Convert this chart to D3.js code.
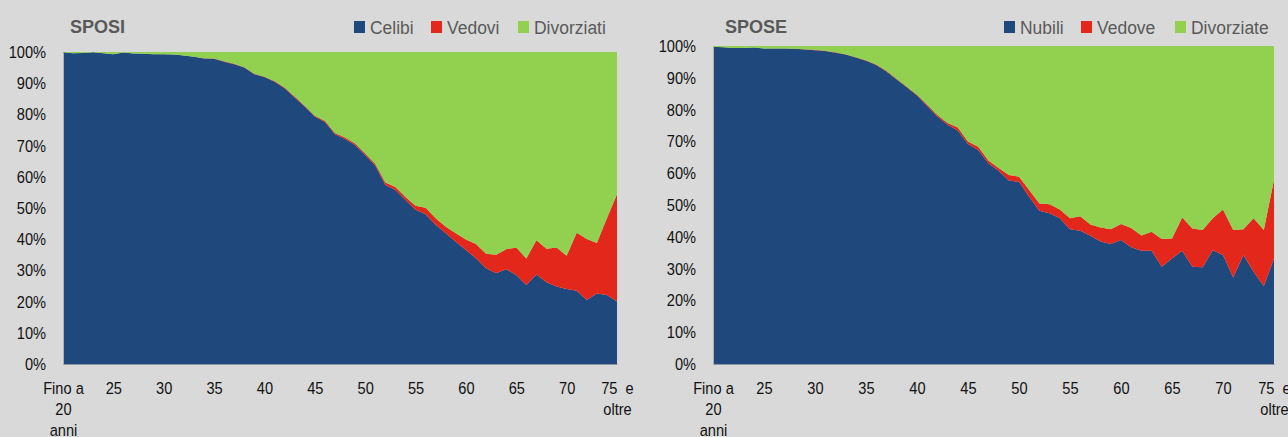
<!DOCTYPE html>
<html>
<head>
<meta charset="utf-8">
<script src="https://cdn.jsdelivr.net/npm/d3@7"></script>
<style>
  body { margin: 0; background: #d9d9d9; }
  svg { display: block; font-family: "Liberation Sans", Arial, sans-serif; }
</style>
</head>
<body>
<div id="vis"></div>
<script>
// eta' alla data del matrimonio: da "Fino a 20 anni" a "75 e oltre"
const ages = [20, 21, 22, 23, 24, 25, 26, 27, 28, 29, 30, 31, 32, 33, 34, 35, 36, 37, 38, 39,
  40, 41, 42, 43, 44, 45, 46, 47, 48, 49, 50, 51, 52, 53, 54, 55, 56, 57, 58, 59,
  60, 61, 62, 63, 64, 65, 66, 67, 68, 69, 70, 71, 72, 73, 74, 75];

const xTicks = [20, 25, 30, 35, 40, 45, 50, 55, 60, 65, 70, 75];
const xTickLabels = [["Fino a", "20", "anni"], ["25"], ["30"], ["35"], ["40"], ["45"],
  ["50"], ["55"], ["60"], ["65"], ["70"], ["75\u00a0\u00a0e", "oltre"]];
const yTicks = [0, 0.1, 0.2, 0.3, 0.4, 0.5, 0.6, 0.7, 0.8, 0.9, 1];

// SPOSI (%)
const celibi = [99.9, 99.6, 99.7, 99.9, 99.6, 99.3, 99.8, 99.5, 99.4, 99.3, 99.3, 99.2, 98.9, 98.5, 97.9, 97.8, 96.9, 96.1, 95.0, 92.9,
  92.0, 90.5, 88.4, 85.4, 82.5, 79.3, 77.6, 73.6, 72.1, 70.2, 67.0, 63.6, 57.4, 55.8, 52.6, 49.4, 48.0, 44.6, 41.9, 39.2,
  36.5, 33.9, 30.7, 29.1, 30.4, 28.5, 25.3, 28.7, 26.2, 24.8, 24.0, 23.5, 20.5, 22.6, 22.1, 20.0];
const vedovi = [0.0, 0.0, 0.0, 0.0, 0.0, 0.0, 0.0, 0.0, 0.0, 0.0, 0.0, 0.0, 0.0, 0.0, 0.1, 0.1, 0.1, 0.1, 0.1, 0.1,
  0.1, 0.2, 0.2, 0.3, 0.3, 0.3, 0.4, 0.4, 0.5, 0.5, 0.5, 0.6, 0.8, 0.9, 0.9, 1.3, 2.1, 2.1, 2.1, 2.7,
  3.4, 4.6, 4.6, 5.9, 6.4, 8.8, 8.5, 11.0, 10.7, 12.5, 10.7, 18.6, 19.6, 16.2, 24.6, 34.4];
const divorziati = [0.1, 0.4, 0.3, 0.1, 0.4, 0.7, 0.2, 0.5, 0.6, 0.7, 0.7, 0.8, 1.1, 1.5, 2.0, 2.1, 3.0, 3.8, 4.9, 7.0,
  7.9, 9.3, 11.4, 14.3, 17.2, 20.4, 22.0, 26.0, 27.4, 29.3, 32.5, 35.8, 41.8, 43.3, 46.5, 49.3, 49.9, 53.3, 56.0, 58.1,
  60.1, 61.5, 64.7, 65.0, 63.2, 62.7, 66.2, 60.3, 63.1, 62.7, 65.3, 57.9, 59.9, 61.2, 53.3, 45.6];

// SPOSE (%)
const nubili = [99.8, 99.6, 99.4, 99.4, 99.5, 99.2, 99.2, 99.2, 99.1, 98.9, 98.7, 98.4, 97.9, 97.3, 96.4, 95.4, 94.0, 92.0, 89.5, 87.0,
  84.4, 81.1, 77.8, 75.2, 73.4, 69.2, 67.3, 63.1, 60.8, 57.7, 57.3, 52.6, 48.2, 47.4, 45.8, 42.4, 41.9, 40.3, 38.5, 37.7,
  39.0, 36.7, 35.6, 35.6, 30.6, 33.2, 35.6, 30.6, 30.4, 35.8, 34.3, 27.2, 34.3, 29.0, 24.5, 33.2];
const vedove = [0.0, 0.0, 0.0, 0.0, 0.0, 0.0, 0.0, 0.0, 0.0, 0.1, 0.1, 0.1, 0.1, 0.1, 0.1, 0.1, 0.2, 0.2, 0.2, 0.2,
  0.3, 0.4, 0.5, 0.6, 1.0, 0.8, 1.0, 0.9, 0.8, 1.7, 1.6, 2.1, 2.3, 2.8, 2.8, 3.4, 4.6, 3.6, 4.4, 4.7,
  5.0, 6.1, 4.8, 6.0, 8.7, 6.3, 10.5, 12.0, 11.7, 10.0, 14.3, 14.9, 8.1, 16.8, 17.6, 24.7];
const divorziate = [0.2, 0.4, 0.6, 0.6, 0.5, 0.8, 0.8, 0.8, 0.9, 1.0, 1.2, 1.5, 2.0, 2.6, 3.5, 4.5, 5.8, 7.8, 10.3, 12.8,
  15.3, 18.5, 21.7, 24.2, 25.6, 30.0, 31.7, 36.0, 38.4, 40.6, 41.1, 45.3, 49.5, 49.8, 51.4, 54.2, 53.5, 56.1, 57.1, 57.6,
  56.0, 57.2, 59.6, 58.4, 60.7, 60.5, 53.9, 57.4, 57.9, 54.2, 51.4, 57.9, 57.6, 54.2, 57.9, 42.1];

const colors = ['#1f497d', '#e3271a', '#92d050'];

let svg = d3.select('#vis')
  .append('svg')
  .attr('width', 1288)
  .attr('height', 437)
  .style('background-color', '#d9d9d9');

function drawPanel(p) {
  let rows = ages.map((a, i) => ({ age: a, s0: p.series[0][i] / 100, s1: p.series[1][i] / 100, s2: p.series[2][i] / 100 }));
  let stacked = d3.stack().keys(['s0', 's1', 's2'])(rows);

  let x = d3.scaleLinear().domain([20, 75]).range([p.left, p.right]);
  let y = d3.scaleLinear().domain([0, 1]).range([p.bottom, p.top]);

  let area = d3.area()
    .x(d => x(d.data.age))
    .y0(d => y(d[0]))
    .y1(d => y(d[1]));

  svg.append('g').selectAll('path')
    .data(stacked)
    .join('path')
    .attr('d', area)
    .attr('fill', (d, i) => colors[i]);

  // y axis
  let yAxis = svg.append('g')
    .attr('transform', `translate(${p.left},0)`)
    .call(d3.axisLeft(y).tickValues(yTicks).tickFormat(d3.format('.0%')).tickSize(0));
  yAxis.select('.domain').attr('stroke', '#b0b0b0');
  yAxis.selectAll('text')
    .attr('font-size', 17)
    .attr('fill', '#111')
    .attr('font-family', '"Liberation Sans", Arial, sans-serif')
    .attr('x', -17 / 0.86)
    .attr('transform', 'scale(0.86,1)');

  // x axis
  let xAxis = svg.append('g')
    .attr('transform', `translate(0,${p.bottom})`)
    .call(d3.axisBottom(x).tickValues(xTicks).tickFormat('').tickSize(0));
  xAxis.select('.domain').attr('stroke', '#8a96a8');
  xAxis.selectAll('.tick').each(function (d, i) {
    let t = d3.select(this).append('text')
      .attr('font-size', 17)
      .attr('fill', '#111')
      .attr('text-anchor', 'middle')
      .attr('transform', 'scale(0.86,1)');
    xTickLabels[i].forEach((line, j) => {
      t.append('tspan').attr('x', 0).attr('y', 30 + j * 21).text(line);
    });
  });

  // title
  svg.append('text')
    .attr('transform', `translate(${p.titleX},33) scale(0.95,1)`)
    .attr('font-size', 19)
    .attr('font-weight', 'bold')
    .attr('fill', '#595959')
    .text(p.title);

  // legend
  p.names.forEach((name, i) => {
    svg.append('rect')
      .attr('x', p.legendX[i]).attr('y', 21)
      .attr('width', 11).attr('height', 12)
      .attr('fill', colors[i]);
    svg.append('text')
      .attr('transform', `translate(${p.legendX[i] + 16},34) scale(0.92,1)`)
      .attr('font-size', 19)
      .attr('fill', '#595959')
      .text(name);
  });
}

drawPanel({
  left: 63, right: 617, top: 52, bottom: 364,
  title: 'SPOSI', titleX: 70,
  names: ['Celibi', 'Vedovi', 'Divorziati'],
  legendX: [354, 431, 518],
  series: [celibi, vedovi, divorziati]
});

drawPanel({
  left: 713, right: 1274, top: 46, bottom: 364,
  title: 'SPOSE', titleX: 725,
  names: ['Nubili', 'Vedove', 'Divorziate'],
  legendX: [1004, 1081, 1175],
  series: [nubili, vedove, divorziate]
});
</script>
</body>
</html>
